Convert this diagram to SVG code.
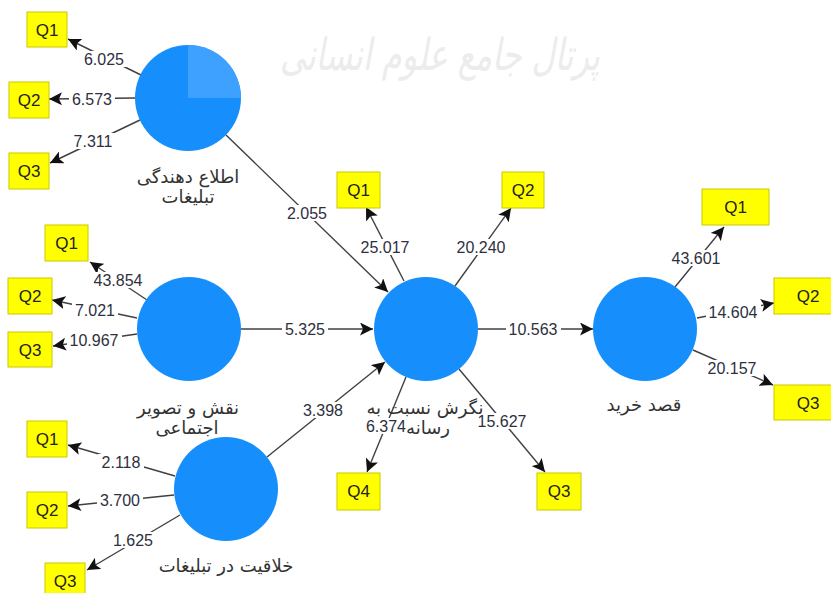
<svg xmlns="http://www.w3.org/2000/svg" width="831" height="593" viewBox="0 0 831 593">
<defs>
<style>
.bg{fill:#ffffff}
.wm{font-family:"DejaVu Sans",sans-serif;font-size:44px;fill:#ececec;font-style:italic}
.c{fill:#168ffd}
.hl{fill:#3ea1ff}
.box{fill:#ffff00;stroke:#c9c900;stroke-width:1}
.q{font-family:"Liberation Sans",Arial,sans-serif;font-size:17px;fill:#222;text-anchor:middle}
.n{font-family:"Liberation Sans",Arial,sans-serif;font-size:16px;fill:#2e3040;text-anchor:middle}
.nb{fill:#ffffff}
.lb{font-family:"DejaVu Sans","Noto Sans",sans-serif;font-size:18px;fill:#333;text-anchor:middle}
.e{stroke:#404040;stroke-width:1.4;fill:none;marker-end:url(#ah)}
</style>
<marker id="ah" markerUnits="userSpaceOnUse" markerWidth="15" markerHeight="13" refX="13" refY="6.5" orient="auto">
<path d="M0,0 L13,6.5 L0,13 L3,6.5 z" fill="#111"/>
</marker>
</defs>
<rect class="bg" x="0" y="0" width="831" height="593"/>
<text class="wm" x="280" y="70" textLength="320" lengthAdjust="spacingAndGlyphs">پرتال جامع علوم انسانی</text>

<g id="connectors">
<line class="e" x1="141" y1="75" x2="68" y2="39"/>
<line class="e" x1="135" y1="98" x2="49" y2="99"/>
<line class="e" x1="140" y1="120" x2="50" y2="163"/>
<line class="e" x1="226" y1="135" x2="388" y2="292"/>
<line class="e" x1="147" y1="300" x2="90" y2="262"/>
<line class="e" x1="137" y1="318" x2="52" y2="300"/>
<line class="e" x1="137" y1="334" x2="53" y2="346"/>
<line class="e" x1="241" y1="329" x2="373" y2="329"/>
<line class="e" x1="175" y1="476" x2="68" y2="445"/>
<line class="e" x1="174" y1="495" x2="68" y2="506"/>
<line class="e" x1="180" y1="515" x2="87" y2="570"/>
<line class="e" x1="267" y1="457" x2="385" y2="362"/>
<line class="e" x1="404" y1="281" x2="366" y2="207"/>
<line class="e" x1="455" y1="286" x2="511" y2="208"/>
<line class="e" x1="478" y1="329" x2="593" y2="329"/>
<line class="e" x1="406" y1="377" x2="367" y2="472"/>
<line class="e" x1="459" y1="369" x2="545" y2="472"/>
<line class="e" x1="675" y1="287" x2="724" y2="227"/>
<line class="e" x1="697" y1="318" x2="774" y2="303"/>
<line class="e" x1="693" y1="350" x2="773" y2="385"/>
<rect class="nb" x="81" y="51" width="46" height="16"/><text class="n" x="104" y="65">6.025</text>
<rect class="nb" x="69" y="91" width="46" height="16"/><text class="n" x="92" y="105">6.573</text>
<rect class="nb" x="70" y="133" width="46" height="16"/><text class="n" x="93" y="147">7.311</text>
<rect class="nb" x="284" y="205" width="46" height="16"/><text class="n" x="307" y="219">2.055</text>
<rect class="nb" x="91" y="272" width="55" height="16"/><text class="n" x="118" y="286">43.854</text>
<rect class="nb" x="72" y="302" width="46" height="16"/><text class="n" x="95" y="316">7.021</text>
<rect class="nb" x="67" y="332" width="55" height="16"/><text class="n" x="94" y="346">10.967</text>
<rect class="nb" x="282" y="321" width="46" height="16"/><text class="n" x="305" y="335">5.325</text>
<rect class="nb" x="98" y="454" width="46" height="16"/><text class="n" x="121" y="468">2.118</text>
<rect class="nb" x="97" y="492" width="46" height="16"/><text class="n" x="120" y="506">3.700</text>
<rect class="nb" x="110" y="532" width="46" height="16"/><text class="n" x="133" y="546">1.625</text>
<rect class="nb" x="300" y="402" width="46" height="16"/><text class="n" x="323" y="416">3.398</text>
<rect class="nb" x="358" y="239" width="55" height="16"/><text class="n" x="385" y="253">25.017</text>
<rect class="nb" x="454" y="239" width="55" height="16"/><text class="n" x="481" y="253">20.240</text>
<rect class="nb" x="506" y="321" width="55" height="16"/><text class="n" x="533" y="335">10.563</text>
<rect class="nb" x="364" y="418" width="44" height="16"/><text class="n" x="386" y="432">6.374</text>
<rect class="nb" x="475" y="413" width="55" height="16"/><text class="n" x="502" y="427">15.627</text>
<rect class="nb" x="669" y="250" width="55" height="16"/><text class="n" x="696" y="264">43.601</text>
<rect class="nb" x="706" y="304" width="55" height="16"/><text class="n" x="733" y="318">14.604</text>
<rect class="nb" x="705" y="360" width="55" height="16"/><text class="n" x="732" y="374">20.157</text>
</g>

<g id="n-ettela">
<circle class="c" cx="188" cy="98" r="53"/>
<path class="hl" d="M188,98 V45 A53,53 0 0 1 241,98 Z"/>
<text class="lb" x="188" y="183">اطلاع دهندگی</text>
<text class="lb" x="188" y="203">تبلیغات</text>
</g>
<g id="n-ettela-q1"><rect class="box" x="27" y="12" width="40" height="35"/><text class="q" x="47" y="36">Q1</text></g>
<g id="n-ettela-q2"><rect class="box" x="9" y="82" width="40" height="36"/><text class="q" x="29" y="106">Q2</text></g>
<g id="n-ettela-q3"><rect class="box" x="9" y="153" width="40" height="36"/><text class="q" x="29" y="177">Q3</text></g>

<g id="n-naqsh">
<circle class="c" cx="189" cy="329" r="52"/>
<text class="lb" x="188" y="414">نقش و تصویر</text>
<text class="lb" x="187" y="434">اجتماعی</text>
</g>
<g id="n-naqsh-q1"><rect class="box" x="45" y="225" width="43" height="36"/><text class="q" x="66.5" y="249">Q1</text></g>
<g id="n-naqsh-q2"><rect class="box" x="8" y="278" width="44" height="36"/><text class="q" x="30" y="302">Q2</text></g>
<g id="n-naqsh-q3"><rect class="box" x="8" y="332" width="44" height="35"/><text class="q" x="30" y="356">Q3</text></g>

<g id="n-khalaqiat">
<circle class="c" cx="226" cy="489" r="52"/>
<text class="lb" x="226" y="572">خلاقیت در تبلیغات</text>
</g>
<g id="n-khalaqiat-q1"><rect class="box" x="27" y="421" width="40" height="36"/><text class="q" x="47" y="445">Q1</text></g>
<g id="n-khalaqiat-q2"><rect class="box" x="27" y="492" width="40" height="36"/><text class="q" x="47" y="516">Q2</text></g>
<g id="n-khalaqiat-q3"><rect class="box" x="45" y="563" width="40" height="36"/><text class="q" x="65" y="587">Q3</text></g>

<g id="n-negaresh">
<circle class="c" cx="426" cy="329" r="52"/>
<text class="lb" x="425" y="414">نگرش نسبت به</text>
<text class="lb" x="428" y="434">رسانه</text>
</g>
<g id="n-negaresh-q1"><rect class="box" x="337" y="172" width="43" height="36"/><text class="q" x="358.5" y="196">Q1</text></g>
<g id="n-negaresh-q2"><rect class="box" x="502" y="172" width="42" height="36"/><text class="q" x="523" y="196">Q2</text></g>
<g id="n-negaresh-q4"><rect class="box" x="337" y="473" width="43" height="37"/><text class="q" x="358.5" y="497">Q4</text></g>
<g id="n-negaresh-q3"><rect class="box" x="537" y="473" width="44" height="37"/><text class="q" x="559" y="497">Q3</text></g>

<g id="n-qasd">
<circle class="c" cx="645" cy="329" r="52"/>
<text class="lb" x="644" y="411">قصد خرید</text>
</g>
<g id="n-qasd-q1"><rect class="box" x="702" y="189" width="67" height="36"/><text class="q" x="735.5" y="213">Q1</text></g>
<g id="n-qasd-q2"><rect class="box" x="774" y="278" width="70" height="36"/><text class="q" x="808" y="302">Q2</text></g>
<g id="n-qasd-q3"><rect class="box" x="774" y="385" width="70" height="35"/><text class="q" x="808" y="409">Q3</text></g>
</svg>
